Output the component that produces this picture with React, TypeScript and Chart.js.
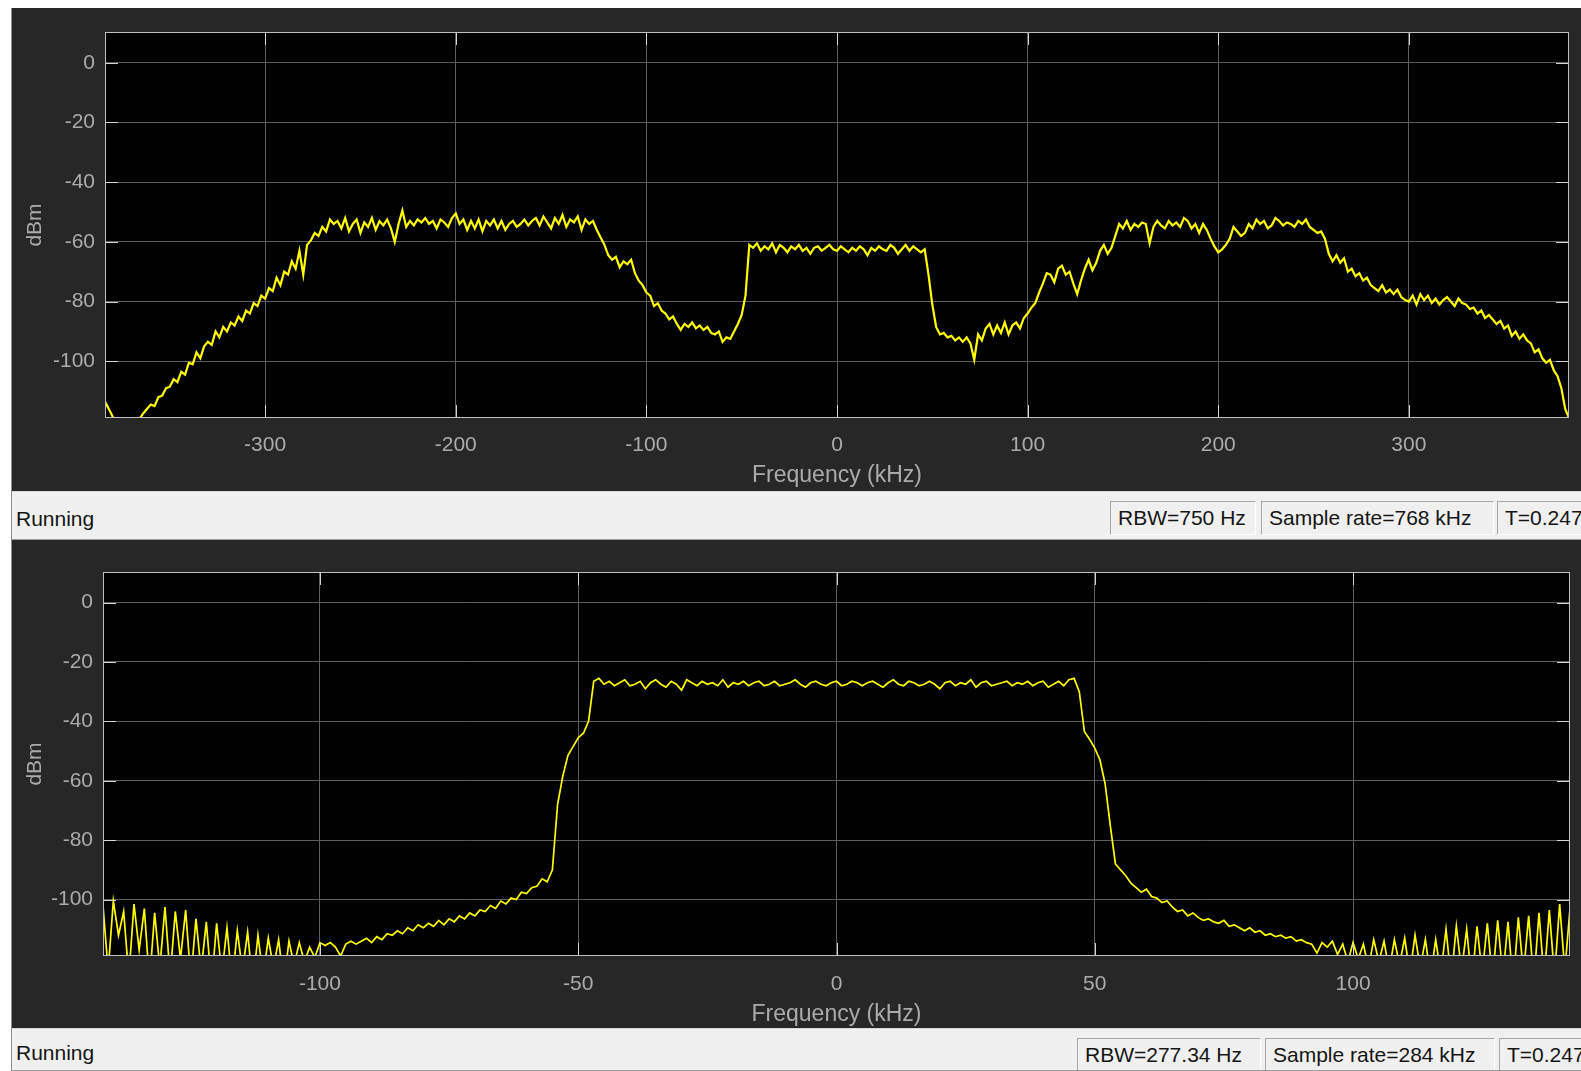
import { useEffect, useRef } from "react";
import { Chart, registerables } from "chart.js";

Chart.register(...registerables);

// ---- Wideband capture (768 kHz sample rate) ----
const WIDE_FREQ_KHZ = [
  -384, -382, -380, -378, -376, -374, -372, -370, -368, -366,
  -364, -362, -360, -358, -356, -354, -352, -350, -348, -346,
  -344, -342, -340, -338, -336, -334, -332, -330, -328, -326,
  -324, -322, -320, -318, -316, -314, -312, -310, -308, -306,
  -304, -302, -300, -298, -296, -294, -292, -290, -288, -286,
  -284, -282, -280, -278, -276, -274, -272, -270, -268, -266,
  -264, -262, -260, -258, -256, -254, -252, -250, -248, -246,
  -244, -242, -240, -238, -236, -234, -232, -230, -228, -226,
  -224, -222, -220, -218, -216, -214, -212, -210, -208, -206,
  -204, -202, -200, -198, -196, -194, -192, -190, -188, -186,
  -184, -182, -180, -178, -176, -174, -172, -170, -168, -166,
  -164, -162, -160, -158, -156, -154, -152, -150, -148, -146,
  -144, -142, -140, -138, -136, -134, -132, -130, -128, -126,
  -124, -122, -120, -118, -116, -114, -112, -110, -108, -106,
  -104, -102, -100, -98, -96, -94, -92, -90, -88, -86,
  -84, -82, -80, -78, -76, -74, -72, -70, -68, -66,
  -64, -62, -60, -58, -56, -54, -52, -50, -48, -46,
  -44, -42, -40, -38, -36, -34, -32, -30, -28, -26,
  -24, -22, -20, -18, -16, -14, -12, -10, -8, -6,
  -4, -2, 0, 2, 4, 6, 8, 10, 12, 14,
  16, 18, 20, 22, 24, 26, 28, 30, 32, 34,
  36, 38, 40, 42, 44, 46, 48, 50, 52, 54,
  56, 58, 60, 62, 64, 66, 68, 70, 72, 74,
  76, 78, 80, 82, 84, 86, 88, 90, 92, 94,
  96, 98, 100, 102, 104, 106, 108, 110, 112, 114,
  116, 118, 120, 122, 124, 126, 128, 130, 132, 134,
  136, 138, 140, 142, 144, 146, 148, 150, 152, 154,
  156, 158, 160, 162, 164, 166, 168, 170, 172, 174,
  176, 178, 180, 182, 184, 186, 188, 190, 192, 194,
  196, 198, 200, 202, 204, 206, 208, 210, 212, 214,
  216, 218, 220, 222, 224, 226, 228, 230, 232, 234,
  236, 238, 240, 242, 244, 246, 248, 250, 252, 254,
  256, 258, 260, 262, 264, 266, 268, 270, 272, 274,
  276, 278, 280, 282, 284, 286, 288, 290, 292, 294,
  296, 298, 300, 302, 304, 306, 308, 310, 312, 314,
  316, 318, 320, 322, 324, 326, 328, 330, 332, 334,
  336, 338, 340, 342, 344, 346, 348, 350, 352, 354,
  356, 358, 360, 362, 364, 366, 368, 370, 372, 374,
  376, 378, 380, 382, 384,
];

const WIDE_POWER_DBM = [
  -113.5, -116, -118.5, -122, -125, -124, -123.5, -122, -121, -119.5,
  -117.5, -116, -114.5, -115, -112, -111.5, -109, -108.5, -106, -107,
  -103.5, -104.5, -100.5, -101, -97, -99, -95, -93.5, -94.5, -90,
  -92, -88.5, -90, -87, -88, -85, -86.5, -83, -84, -80.5,
  -81.5, -78, -79, -75.5, -76.5, -72, -74.5, -70, -71, -66.5,
  -69, -63, -71, -61, -59.5, -57, -58, -55, -56.5, -52.5,
  -54, -53, -55.5, -52, -56.5, -54, -52.5, -57, -53.5, -55,
  -52, -56, -53, -54.5, -52.5, -55.5, -60, -54, -49.5, -55,
  -53, -54.5, -52.5, -53.5, -52, -54, -53, -55.5, -52.5, -53.5,
  -55, -52, -50.5, -54, -52.5, -56, -53, -55.5, -52.5, -56.5,
  -53, -54.5, -52.5, -55.5, -53, -56, -54, -53, -55, -54,
  -52.5, -54.5, -53, -52, -54.5, -51.5, -53.5, -55.5, -52, -54,
  -51, -55, -52.5, -53.5, -51.5, -56, -52.5, -54, -53, -56,
  -58.5, -61, -64.5, -66, -65, -68.5, -66.5, -67.5, -66, -70.5,
  -73, -74.5, -77, -78, -81.5, -80.5, -83, -84, -86, -85,
  -87.5, -89.5, -87.5, -88.5, -87, -89, -88, -89.5, -88.5, -90.5,
  -91, -90, -93.5, -92, -92.5, -90, -87.5, -84.5, -78, -61,
  -62, -60.5, -63, -61.5, -62.5, -60.5, -63.5, -61, -62, -63.5,
  -61.5, -62.5, -61, -63, -62, -64, -62, -61.5, -63, -62,
  -61, -62.5, -63, -61.5, -62.5, -63.5, -62, -63, -61.5, -62.5,
  -64.5, -62, -63, -61.5, -62.5, -63, -61, -62, -64, -62.5,
  -61, -63, -61.5, -62.5, -63.5, -62.5, -71, -81, -88.5, -91,
  -90.5, -92, -91.5, -93, -92, -93.5, -92, -94, -99.5, -91,
  -93, -89, -87.5, -91, -88, -90.5, -87, -91, -88, -87,
  -89, -85.5, -84, -82, -80.5, -77, -74, -70.5, -71, -73.5,
  -69, -68, -71, -70, -74, -77.5, -73, -69, -66, -69.5,
  -67, -63, -61, -64, -62, -58, -54, -55.5, -53, -56,
  -54, -55, -53.5, -54, -60.5, -55, -53, -54.5, -55.5, -53,
  -54.5, -53.5, -55, -52, -53, -55.5, -54, -57, -54, -56,
  -59, -61.5, -63.5, -62.5, -61, -59, -55, -56.5, -58, -57,
  -54, -55.5, -52.5, -54, -53, -55.5, -54.5, -52, -53, -54.5,
  -53.5, -54, -55, -53, -54, -52.5, -55, -56, -57, -56.5,
  -59, -64, -66.5, -64.5, -67, -65.5, -70, -69, -71.5, -70.5,
  -73, -72, -74.5, -75.5, -76.5, -74.5, -77, -76, -77.5, -76,
  -78.5, -79.5, -80, -78, -81, -77.5, -79.5, -78, -80.5, -79,
  -81, -79.5, -78.5, -80, -81.5, -79, -80.5, -81, -82.5, -82,
  -84, -83, -85.5, -84.5, -86, -87.5, -86.5, -89, -88, -91.5,
  -90, -92.5, -91, -93, -94, -97, -96, -99, -100.5, -99.5,
  -103, -105, -109, -116, -119,
];

const WIDE_X_TICKS = [-300, -200, -100, 0, 100, 200, 300];

// ---- Channel capture (284 kHz sample rate) ----
const NARROW_FREQ_KHZ = [
  -142, -141, -140, -139, -138, -137, -136, -135, -134, -133,
  -132, -131, -130, -129, -128, -127, -126, -125, -124, -123,
  -122, -121, -120, -119, -118, -117, -116, -115, -114, -113,
  -112, -111, -110, -109, -108, -107, -106, -105, -104, -103,
  -102, -101, -100, -99, -98, -97, -96, -95, -94, -93,
  -92, -91, -90, -89, -88, -87, -86, -85, -84, -83,
  -82, -81, -80, -79, -78, -77, -76, -75, -74, -73,
  -72, -71, -70, -69, -68, -67, -66, -65, -64, -63,
  -62, -61, -60, -59, -58, -57, -56, -55, -54, -53,
  -52, -51, -50, -49, -48, -47, -46, -45, -44, -43,
  -42, -41, -40, -39, -38, -37, -36, -35, -34, -33,
  -32, -31, -30, -29, -28, -27, -26, -25, -24, -23,
  -22, -21, -20, -19, -18, -17, -16, -15, -14, -13,
  -12, -11, -10, -9, -8, -7, -6, -5, -4, -3,
  -2, -1, 0, 1, 2, 3, 4, 5, 6, 7,
  8, 9, 10, 11, 12, 13, 14, 15, 16, 17,
  18, 19, 20, 21, 22, 23, 24, 25, 26, 27,
  28, 29, 30, 31, 32, 33, 34, 35, 36, 37,
  38, 39, 40, 41, 42, 43, 44, 45, 46, 47,
  48, 49, 50, 51, 52, 53, 54, 55, 56, 57,
  58, 59, 60, 61, 62, 63, 64, 65, 66, 67,
  68, 69, 70, 71, 72, 73, 74, 75, 76, 77,
  78, 79, 80, 81, 82, 83, 84, 85, 86, 87,
  88, 89, 90, 91, 92, 93, 94, 95, 96, 97,
  98, 99, 100, 101, 102, 103, 104, 105, 106, 107,
  108, 109, 110, 111, 112, 113, 114, 115, 116, 117,
  118, 119, 120, 121, 122, 123, 124, 125, 126, 127,
  128, 129, 130, 131, 132, 133, 134, 135, 136, 137,
  138, 139, 140, 141, 142,
];

const NARROW_POWER_DBM = [
  -102, -124, -100.5, -112, -104, -126, -101.5, -117, -103, -128,
  -104.5, -123, -102.5, -126, -104, -120, -103.5, -127, -106.5, -124,
  -107.5, -129, -108, -125, -109.5, -128, -110.5, -124, -111, -129,
  -112, -126, -113, -123, -113.5, -128, -114, -122, -114.5, -121,
  -116, -119.5, -114.5, -115.5, -114.5, -116, -119, -115, -114, -115,
  -114, -113, -114.5, -112.5, -113.5, -111.5, -112, -110.5, -111.5, -109.5,
  -110.5, -108.5, -109.5, -108, -109, -107, -108.5, -106.5, -107.5, -105.5,
  -106.5, -104.5, -105.5, -103.5, -104, -102, -103, -100.5, -101.5, -99.5,
  -100, -97.5, -98, -96, -95.5, -93, -94, -90, -68, -58.5,
  -51.5, -48.5, -45.5, -44, -40, -26.5, -25.5, -27.5, -26.5, -28,
  -27, -26, -28, -27.5, -26.5, -29, -27, -26, -27.5, -28.5,
  -26.5, -27.5, -29.5, -26, -27, -28, -26.5, -27.5, -27, -28,
  -26, -28.5, -27, -27.5, -26.5, -28, -27, -26.5, -28, -27.5,
  -26.5, -28, -27.5, -27, -26, -27.5, -28.5, -27, -26.5, -27.5,
  -28, -27, -26.5, -28, -27.5, -26.5, -27, -28, -27, -26.5,
  -27.5, -28.5, -27, -26, -27.5, -28, -26.5, -27, -28, -27.5,
  -26.5, -27.5, -29, -27, -26.5, -28, -27, -27.5, -26, -28.5,
  -27, -26.5, -28, -27.5, -27, -26.5, -28, -27, -27.5, -26.5,
  -28, -27, -26.5, -28.5, -27.5, -26.5, -28, -26, -25.5, -30,
  -43.5, -46, -49, -53, -61, -75, -88, -90, -92, -94.5,
  -96, -97.5, -96.5, -99, -99.5, -101, -100.5, -102.5, -104, -103.5,
  -105.5, -104.5, -106, -107, -106.5, -107.5, -108, -107, -109, -108.5,
  -109.5, -110.5, -109.5, -111, -110.5, -112, -111.5, -112.5, -112, -113,
  -112.5, -114, -113.5, -114.5, -115, -118, -114.5, -116, -114, -118.5,
  -115, -121, -114.5, -120, -115, -123, -113.5, -121, -114, -124,
  -113.5, -122, -113, -125, -112, -123, -113.5, -126, -113.5, -125,
  -110, -127, -109, -124, -110, -128, -109, -125, -108, -127,
  -107, -126, -107.5, -129, -106, -125, -105.5, -128, -104.5, -127,
  -103.5, -126, -101.5, -124, -103,
];

const NARROW_X_TICKS = [-100, -50, 0, 50, 100];

const DBM_TICKS = [0, -20, -40, -60, -80, -100];
const DBM_MIN = -119;
const DBM_MAX = 10.3;

const WIDE_STATUS = ["RBW=750 Hz", "Sample rate=768 kHz", "T=0.247"];
const NARROW_STATUS = ["RBW=277.34 Hz", "Sample rate=284 kHz", "T=0.247"];

// ---- styling ----
const FIGURE_BG = "#272727";
const TRACE = "#ffff00";
const GRID = "#5e5e5e";
const FRAME = "#bdbdbd";
const TICK_MARK = "#d4d4d4";
const LABEL = "#ababab";
const FONT = "'Liberation Sans', Arial, sans-serif";

type Area = { left: number; top: number; right: number; bottom: number };

const scopeFrame = {
  id: "scopeFrame",
  beforeDraw(chart: any) {
    const { ctx, chartArea: a } = chart;
    ctx.save();
    ctx.fillStyle = "#000000";
    ctx.fillRect(a.left, a.top, a.right - a.left, a.bottom - a.top);
    ctx.restore();
  },
  afterDraw(chart: any) {
    const { ctx, chartArea: a, scales } = chart;
    const len = 13;
    ctx.save();
    ctx.lineWidth = 1;
    ctx.strokeStyle = TICK_MARK;
    ctx.beginPath();
    for (const t of scales.x.ticks) {
      const px = Math.round(scales.x.getPixelForValue(t.value)) + 0.5;
      ctx.moveTo(px, a.bottom);
      ctx.lineTo(px, a.bottom - len);
      ctx.moveTo(px, a.top);
      ctx.lineTo(px, a.top + len);
    }
    for (const t of scales.y.ticks) {
      const py = Math.round(scales.y.getPixelForValue(t.value)) + 0.5;
      ctx.moveTo(a.left, py);
      ctx.lineTo(a.left + len, py);
      ctx.moveTo(a.right, py);
      ctx.lineTo(a.right - len, py);
    }
    ctx.stroke();
    ctx.strokeStyle = FRAME;
    ctx.strokeRect(a.left + 0.5, a.top + 0.5, a.right - a.left - 1, a.bottom - a.top - 1);
    ctx.restore();
  },
};

type PanelProps = {
  freq: number[];
  power: number[];
  xMin: number;
  xMax: number;
  xTicks: number[];
  width: number;
  height: number;
  area: Area;
  lineWidth: number;
  tickPad: number;
  titlePad: number;
};

function SpectrumPanel(p: PanelProps) {
  const ref = useRef<HTMLCanvasElement>(null);

  useEffect(() => {
    const canvas = ref.current;
    if (!canvas) return;
    const points = p.freq.map((f, i) => ({ x: f, y: p.power[i] }));
    const tickFont = { family: FONT, size: 21 };
    const chart = new Chart(canvas, {
      type: "line",
      data: {
        datasets: [
          {
            data: points,
            borderColor: TRACE,
            borderWidth: p.lineWidth,
            pointRadius: 0,
            tension: 0,
            fill: false,
          },
        ],
      },
      options: {
        animation: false,
        responsive: false,
        devicePixelRatio: 1,
        events: [],
        plugins: { legend: { display: false }, tooltip: { enabled: false } },
        layout: {
          padding: { left: 0, top: p.area.top, right: p.width - p.area.right, bottom: 0 },
        },
        scales: {
          x: {
            type: "linear",
            min: p.xMin,
            max: p.xMax,
            afterBuildTicks: (s: any) => {
              s.ticks = p.xTicks.map((v) => ({ value: v }));
            },
            afterFit: (s: any) => {
              s.height = p.height - p.area.bottom;
            },
            grid: { color: GRID, lineWidth: 1, drawTicks: false },
            border: { display: false },
            ticks: { color: LABEL, font: tickFont, padding: p.tickPad, maxRotation: 0, autoSkip: false },
            title: {
              display: true,
              text: "Frequency (kHz)",
              color: LABEL,
              font: { family: FONT, size: 23 },
              padding: { top: 0, bottom: p.titlePad },
            },
          },
          y: {
            type: "linear",
            min: DBM_MIN,
            max: DBM_MAX,
            afterBuildTicks: (s: any) => {
              s.ticks = DBM_TICKS.map((v) => ({ value: v }));
            },
            afterFit: (s: any) => {
              s.width = p.area.left;
            },
            grid: { color: GRID, lineWidth: 1, drawTicks: false },
            border: { display: false },
            ticks: { color: LABEL, font: tickFont, padding: 10 },
            title: {
              display: true,
              text: "dBm",
              color: LABEL,
              font: { family: FONT, size: 21 },
              padding: { top: 11, bottom: 0 },
            },
          },
        },
      } as any,
      plugins: [scopeFrame],
    });
    return () => chart.destroy();
  }, []);

  return (
    <canvas
      ref={ref}
      width={p.width}
      height={p.height}
      style={{ display: "block", width: p.width, height: p.height }}
    />
  );
}

type StatusBox = { left: number; width: number; text: string };

function StatusBar({ top, height, boxTop, boxes }: { top: number; height: number; boxTop: number; boxes: StatusBox[] }) {
  return (
    <div
      style={{
        position: "absolute",
        left: 12,
        top,
        width: 1569,
        height,
        background: "#f0f0f0",
        borderTop: "1px solid #d9d9d9",
        borderBottom: "1px solid #9c9c9c",
        boxSizing: "border-box",
        overflow: "hidden",
        fontFamily: FONT,
        fontSize: 21,
        color: "#151515",
      }}
    >
      <div style={{ position: "absolute", left: 4, top: 0, height, lineHeight: `${height + 4}px` }}>Running</div>
      {boxes.map((b, i) => (
        <div
          key={i}
          style={{
            position: "absolute",
            left: b.left,
            top: boxTop,
            width: b.width,
            height: 34,
            boxSizing: "border-box",
            borderTop: "1px solid #a6a6a6",
            borderLeft: "1px solid #a6a6a6",
            borderRight: "1px solid #ffffff",
            borderBottom: "1px solid #ffffff",
            paddingLeft: 7,
            lineHeight: "32px",
            whiteSpace: "nowrap",
          }}
        >
          {b.text}
        </div>
      ))}
    </div>
  );
}

export default function App() {
  return (
    <div
      style={{
        position: "fixed",
        left: 0,
        top: 0,
        width: 1581,
        height: 1071,
        background: "#ffffff",
        overflow: "hidden",
      }}
    >
      <div style={{ position: "absolute", left: 11, top: 8, width: 1, height: 1063, background: "#8e8e8e" }} />
      <div style={{ position: "absolute", left: 12, top: 8, width: 1569, height: 483, background: FIGURE_BG }}>
        <SpectrumPanel
          freq={WIDE_FREQ_KHZ}
          power={WIDE_POWER_DBM}
          xMin={-384}
          xMax={384}
          xTicks={WIDE_X_TICKS}
          width={1569}
          height={483}
          area={{ left: 93, top: 24, right: 1557, bottom: 410 }}
          lineWidth={2.2}
          tickPad={15}
          titlePad={2}
        />
      </div>
      <StatusBar
        top={491}
        height={49}
        boxTop={9}
        boxes={[
          { left: 1098, width: 146, text: WIDE_STATUS[0] },
          { left: 1249, width: 233, text: WIDE_STATUS[1] },
          { left: 1485, width: 120, text: WIDE_STATUS[2] },
        ]}
      />
      <div style={{ position: "absolute", left: 12, top: 540, width: 1569, height: 488, background: FIGURE_BG }}>
        <SpectrumPanel
          freq={NARROW_FREQ_KHZ}
          power={NARROW_POWER_DBM}
          xMin={-142}
          xMax={142}
          xTicks={NARROW_X_TICKS}
          width={1569}
          height={488}
          area={{ left: 91, top: 32, right: 1558, bottom: 416 }}
          lineWidth={1.7}
          tickPad={16}
          titlePad={0}
        />
      </div>
      <StatusBar
        top={1028}
        height={43}
        boxTop={9}
        boxes={[
          { left: 1065, width: 184, text: NARROW_STATUS[0] },
          { left: 1253, width: 230, text: NARROW_STATUS[1] },
          { left: 1487, width: 120, text: NARROW_STATUS[2] },
        ]}
      />
    </div>
  );
}
